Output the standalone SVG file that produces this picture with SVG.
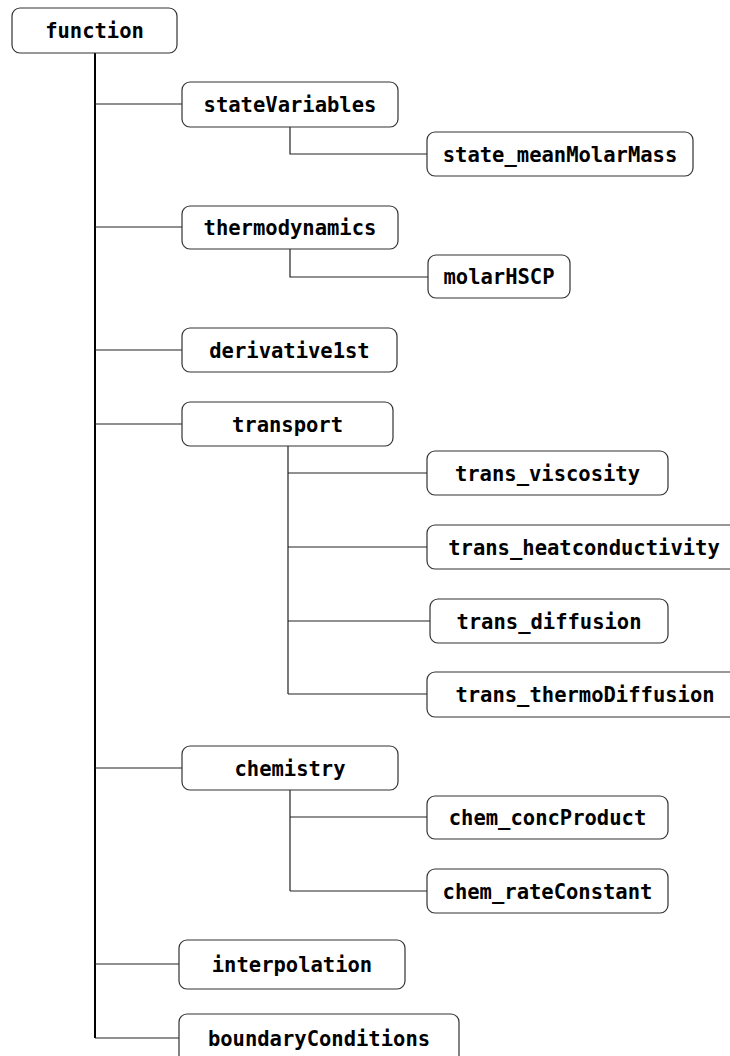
<svg xmlns="http://www.w3.org/2000/svg" width="730" height="1056" viewBox="0 0 730 1056">
  <style>
    .box { fill: #ffffff; stroke: #333333; stroke-width: 1.2; }
    .lbl { font-family: "DejaVu Sans Mono", "Liberation Mono", monospace; font-weight: bold; font-size: 20.5px; fill: #000000; text-anchor: middle; }
    .trunk { fill: none; stroke: #000000; stroke-width: 2; }
    .link { fill: none; stroke: #222222; stroke-width: 1.2; }
  </style>
  <rect width="730" height="1056" fill="#ffffff"/>

  <!-- connectors -->
  <g id="connectors">
    <path class="trunk" d="M95 53 V1038"/>
    <path class="link" d="M95 104 H182 M95 227 H182 M95 350 H182 M95 424 H182 M95 768 H182 M95 964 H179 M95 1038 H179"/>
    <path class="link" d="M290 127 V154 H427"/>
    <path class="link" d="M290 249 V277 H428"/>
    <path class="link" d="M288 446 V694 M288 473 H427 M288 547 H427 M288 621 H430 M288 694 H427"/>
    <path class="link" d="M290 790 V891 M290 817 H427 M290 891 H427"/>
  </g>

  <!-- nodes -->
  <g id="function"><rect class="box" x="12" y="8" width="165" height="45" rx="8"/><text class="lbl" x="94.5" y="38">function</text></g>
  <g id="stateVariables"><rect class="box" x="182" y="82" width="216" height="45" rx="8"/><text class="lbl" x="290" y="112">stateVariables</text></g>
  <g id="state_meanMolarMass"><rect class="box" x="427" y="132" width="266" height="44" rx="8"/><text class="lbl" x="560" y="161.5">state_meanMolarMass</text></g>
  <g id="thermodynamics"><rect class="box" x="182" y="206" width="216" height="43" rx="8"/><text class="lbl" x="290" y="235">thermodynamics</text></g>
  <g id="molarHSCP"><rect class="box" x="428" y="255" width="142" height="43" rx="8"/><text class="lbl" x="499" y="284">molarHSCP</text></g>
  <g id="derivative1st"><rect class="box" x="182" y="328" width="215" height="44" rx="8"/><text class="lbl" x="289.5" y="357.5">derivative1st</text></g>
  <g id="transport"><rect class="box" x="182" y="402" width="211" height="44" rx="8"/><text class="lbl" x="287.5" y="431.5">transport</text></g>
  <g id="trans_viscosity"><rect class="box" x="427" y="451" width="241" height="44" rx="8"/><text class="lbl" x="547.5" y="480.5">trans_viscosity</text></g>
  <g id="trans_heatconductivity"><rect class="box" x="427" y="525" width="314" height="44" rx="8"/><text class="lbl" x="584" y="554.5">trans_heatconductivity</text></g>
  <g id="trans_diffusion"><rect class="box" x="430" y="599" width="238" height="44" rx="8"/><text class="lbl" x="549" y="628.5">trans_diffusion</text></g>
  <g id="trans_thermoDiffusion"><rect class="box" x="427" y="672" width="316" height="45" rx="8"/><text class="lbl" x="585" y="702">trans_thermoDiffusion</text></g>
  <g id="chemistry"><rect class="box" x="182" y="746" width="216" height="44" rx="8"/><text class="lbl" x="290" y="775.5">chemistry</text></g>
  <g id="chem_concProduct"><rect class="box" x="427" y="796" width="241" height="43" rx="8"/><text class="lbl" x="547.5" y="825">chem_concProduct</text></g>
  <g id="chem_rateConstant"><rect class="box" x="427" y="869" width="241" height="44" rx="8"/><text class="lbl" x="547.5" y="898.5">chem_rateConstant</text></g>
  <g id="interpolation"><rect class="box" x="179" y="940" width="226" height="49" rx="8"/><text class="lbl" x="292" y="972">interpolation</text></g>
  <g id="boundaryConditions"><rect class="box" x="179" y="1014" width="280" height="49" rx="8"/><text class="lbl" x="319" y="1046">boundaryConditions</text></g>
</svg>
